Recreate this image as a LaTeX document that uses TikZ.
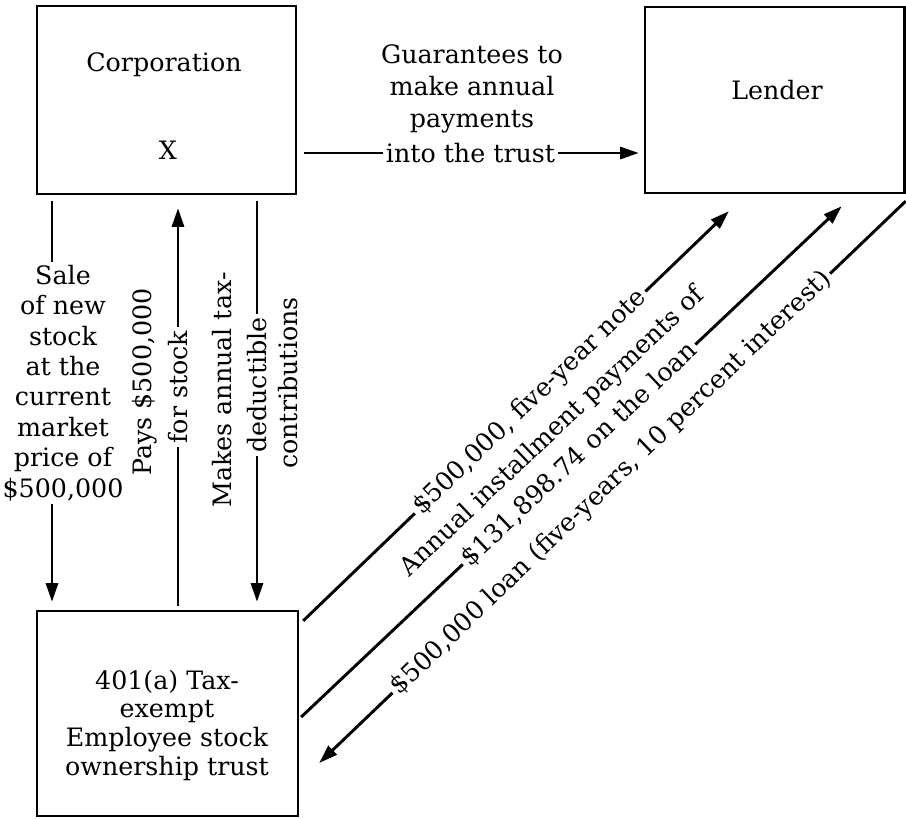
\documentclass[tikz,border=0pt]{standalone}
\usepackage{fontspec}
\setmainfont{DejaVu Serif}
\usetikzlibrary{arrows.meta,calc}

\tikzset{
  box/.style={draw, line width=1.8pt, inner sep=0pt},
  flow/.style={line width=2.2pt, -{Triangle[length=14pt,width=9pt]}},
  onflow/.style={fill=white, inner sep=2.5pt},
}

\begin{document}
\begin{tikzpicture}[x=0.75pt,y=0.75pt,yscale=-1,xscale=1,
  every node/.style={font=\fontsize{19}{23}\selectfont, inner sep=0.75pt}]
\useasboundingbox (0,0) rectangle (906,818);

%Shape: Rectangle
\node [box, minimum width=194.25pt, minimum height=141pt] (corp) at (166.5,100) {};
%Shape: Rectangle
\node [box, minimum width=194.6pt, minimum height=139.5pt] (lender) at (774.75,100) {};
%Shape: Rectangle
\node [box, minimum width=195.75pt, minimum height=153.75pt] (esop) at (167.5,713.5) {};

% Text Node
\node (corpname) at (164,65) {Corporation};
% Text Node
\node (corpx) at (168,150) {X};
% Text Node
\node (lendername) at (777,90) {Lender};
% Text Node
\node [align=center, font=\fontsize{19}{21.5}\selectfont] (esopname) at (167,725) {401(a) Tax-\\exempt\\Employee stock\\ownership trust};

\coordinate (saleline) at (52,0);
\coordinate (payline) at (178,0);
\coordinate (giftline) at (257,0);
\coordinate (guarline) at (0,153);

%Straight Lines
\draw [flow, shorten <=4.5pt, shorten >=6pt] (saleline |- corp.south) -- (saleline |- esop.north);
% Text Node
\node [fill=white, align=center, inner sep=2pt, font=\fontsize{19}{22.8}\selectfont] (saletext) at (63,383) {Sale\\of new\\stock\\at the\\current\\market\\price of\\\$500,000};

%Straight Lines
\draw [flow, shorten <=3pt, shorten >=9.75pt] (payline |- esop.north) -- node [onflow, rotate=90, pos=0.537] (forstock) {for stock} (payline |- corp.south);
% Text Node
\node [rotate=90] (paytext) at (145,382) {Pays \$500,000};

%Straight Lines
\draw [flow, shorten <=4.5pt, shorten >=6pt] (giftline |- corp.south) -- node [onflow, rotate=90, pos=0.458] (deduct) {deductible} (giftline |- esop.north);
% Text Node
\node [rotate=90] (maketext) at (222,390) {Makes annual tax-};
% Text Node
\node [rotate=90] (contrtext) at (288,383) {contributions};

%Straight Lines
\draw [flow, shorten <=5pt, shorten >=3.75pt] (corp.east |- guarline) -- node [onflow] (intotrust) {into the trust} (lender.west |- guarline);
% Text Node
\node [align=center, font=\fontsize{19}{24}\selectfont] (guartext) at (472,89) {Guarantees to\\make annual\\payments};

%Straight Lines
\draw [flow] ($(esop.north east)+(4,11)$) -- node [onflow, rotate=43.9, pos=0.533] (note) {\$500,000, five-year note} ($(lender.south west)+(85,17)$);

%Straight Lines
\draw [flow] ($(esop.east)+(2,3.5)$) -- node [onflow, rotate=43.4, pos=0.514] (payback) {\$131,898.74 on the loan} ($(lender.south)+(67,12)$);
% Text Node
\node [rotate=43.4] (paybacktop) at (553,432) {Annual installment payments of};

%Straight Lines
\draw [flow] ($(lender.south east)+(0,7)$) -- node [onflow, rotate=43.8, pos=0.502] (loan) {\$500,000 loan (five-years, 10 percent interest)} ($(esop.east)+(20,49.5)$);

\end{tikzpicture}
\end{document}
